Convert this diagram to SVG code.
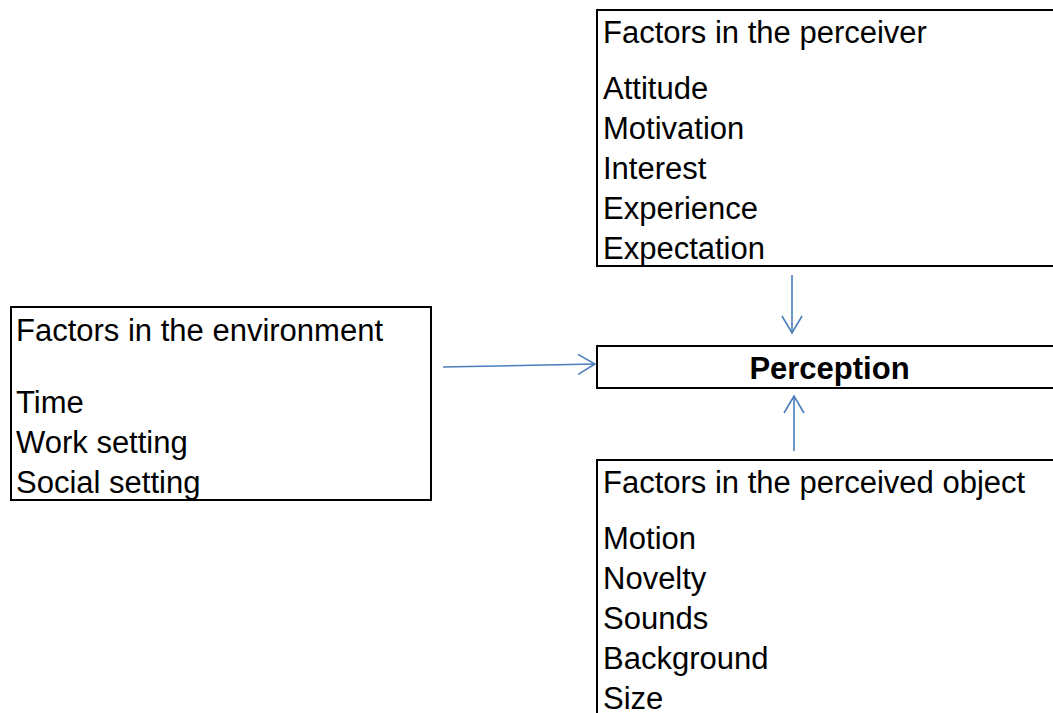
<svg xmlns="http://www.w3.org/2000/svg" width="1053" height="713" viewBox="0 0 1053 713">
<style>
.box{fill:#fff;stroke:#000;stroke-width:2}
.t{font-family:"Liberation Sans",Arial,sans-serif;font-size:31px;fill:#000}
.b{font-family:"Liberation Sans",Arial,sans-serif;font-size:31px;font-weight:bold;fill:#000}
.c{fill:none;stroke:#4a7ebb;stroke-width:1.6}
</style>
<defs>
<marker id="arr" markerUnits="userSpaceOnUse" viewBox="-18 -12 20 24" refX="0" refY="0" markerWidth="20" markerHeight="24" orient="auto">
<path d="M-17,-10 L0,0 L-17,10" fill="none" stroke="#4a7ebb" stroke-width="1.6"/>
</marker>
</defs>
<rect width="1053" height="713" fill="#fff"/>
<g id="perceiver">
<rect class="box" x="597" y="10" width="500" height="256"/>
<text class="t" x="603" y="43">Factors in the perceiver</text>
<text class="t" x="603" y="99">Attitude</text>
<text class="t" x="603" y="139">Motivation</text>
<text class="t" x="603" y="179">Interest</text>
<text class="t" x="603" y="219">Experience</text>
<text class="t" x="603" y="259">Expectation</text>
</g>
<g id="environment">
<rect class="box" x="11" y="307" width="420" height="193"/>
<text class="t" x="16" y="341">Factors in the environment</text>
<text class="t" x="16" y="413">Time</text>
<text class="t" x="16" y="453">Work setting</text>
<text class="t" x="16" y="493">Social setting</text>
</g>
<g id="perception">
<rect class="box" x="597" y="346" width="500" height="42"/>
<text class="b" x="829.5" y="379" text-anchor="middle">Perception</text>
</g>
<g id="object">
<rect class="box" x="597" y="460" width="500" height="300"/>
<text class="t" x="603" y="493">Factors in the perceived object</text>
<text class="t" x="603" y="549">Motion</text>
<text class="t" x="603" y="589">Novelty</text>
<text class="t" x="603" y="629">Sounds</text>
<text class="t" x="603" y="669">Background</text>
<text class="t" x="603" y="709">Size</text>
</g>
<g id="connectors">
<line class="c" x1="792" y1="275" x2="792" y2="333" marker-end="url(#arr)"/>
<line class="c" x1="794" y1="451" x2="794" y2="396" marker-end="url(#arr)"/>
<line class="c" x1="443" y1="367" x2="595" y2="364" marker-end="url(#arr)"/>
</g>
</svg>
